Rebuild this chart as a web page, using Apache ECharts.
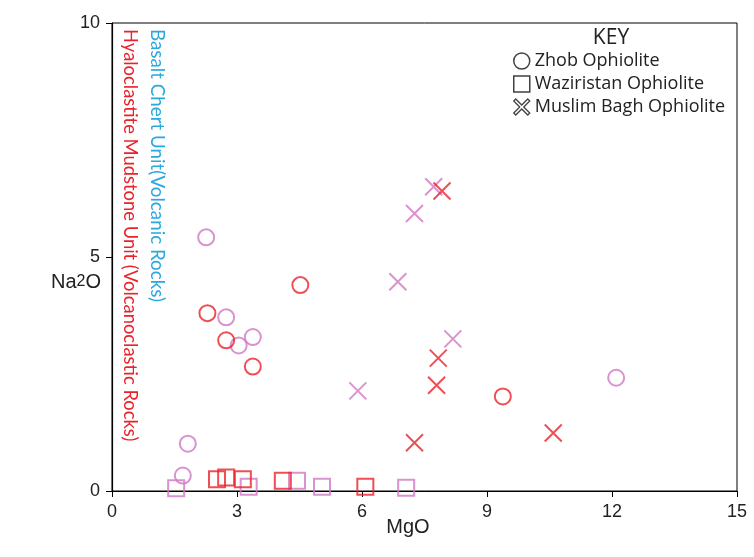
<!DOCTYPE html>
<html>
<head>
<meta charset="utf-8">
<script src="https://cdn.jsdelivr.net/npm/echarts@6/dist/echarts.min.js"></script>
<style>html,body{margin:0;padding:0;background:#fff;}#c{width:754px;height:557px;}</style>
</head>
<body>
<div id="c"></div>
<script>
// ---- data (MgO, Na2O) ----
const xTicks = [0, 3, 6, 9, 12, 15];
const yTicks = [0, 5, 10];
const zhobRed = [[4.52,4.40],[2.29,3.80],[2.74,3.22],[3.38,2.66],[9.38,2.02]];
const zhobPink = [[2.26,5.42],[2.74,3.71],[3.04,3.11],[3.38,3.29],[1.82,1.01],[1.70,0.33],[12.10,2.42]];
const wazRed = [[2.52,0.25],[2.74,0.29],[3.14,0.25],[4.10,0.22],[6.08,0.09]];
const wazPink = [[1.54,0.06],[3.28,0.09],[4.44,0.22],[5.04,0.09],[7.06,0.07]];
const mbRed = [[7.92,6.41],[7.83,2.84],[7.79,2.26],[10.59,1.24],[7.26,1.03]];
const mbPink = [[7.72,6.50],[7.26,5.93],[6.86,4.47],[8.18,3.25],[5.90,2.14]];
const seriesNames = ['Zhob Ophiolite', 'Waziristan Ophiolite', 'Muslim Bagh Ophiolite'];

const RED = '#e8232b', PINK = '#cf78c4';
const XPATH = 'path://M0,0L10,10M10,0L0,10';
const XOUTLINE = 'path://M2,0L8,6L14,0L16,2L10,8L16,14L14,16L8,10L2,16L0,14L6,8L0,2Z';

function mk(name, data, color, symbol, size) {
  return {
    type: 'scatter', name: name, data: data, symbol: symbol, symbolSize: size,
    itemStyle: { color: 'rgba(0,0,0,0)', borderColor: color, borderWidth: 2 },
    emphasis: { disabled: true }, z: 3
  };
}

const chart = echarts.init(document.getElementById('c'), null, { renderer: 'canvas' });
const FONT = 'Liberation Sans';
chart.setOption({
  animation: false,
  backgroundColor: '#fff',
  grid: { left: 112, right: 17, top: 23, bottom: 66, show: true, borderColor: '#000', borderWidth: 1 },
  xAxis: {
    type: 'value', min: 0, max: 15, interval: 3,
    axisLine: { lineStyle: { color: '#000', width: 1.2 } },
    axisTick: { show: true, length: 6, lineStyle: { color: '#000' } },
    axisLabel: { fontSize: 18, color: '#222', fontFamily: FONT, margin: 12,
      formatter: v => xTicks.indexOf(v) >= 0 ? String(v) : '' },
    splitLine: { show: false }
  },
  yAxis: {
    type: 'value', min: 0, max: 10, interval: 5,
    axisLine: { show: true, lineStyle: { color: '#000', width: 1.2 } },
    axisTick: { show: true, length: 6, lineStyle: { color: '#000' } },
    axisLabel: { fontSize: 18, color: '#222', fontFamily: FONT, margin: 12,
      formatter: v => yTicks.indexOf(v) >= 0 ? String(v) : '' },
    splitLine: { show: false }
  },
  legend: {
    orient: 'vertical', left: 508, top: 47, itemWidth: 16, itemHeight: 16, itemGap: 5, itemSymbolKeepAspect: true,
    textStyle: { fontSize: 18, color: '#222', fontFamily: 'Open Sans', padding: [0, 0, 0, 0] },
    selectedMode: false,
    data: [
      { name: seriesNames[0], icon: 'circle', itemStyle: { color: 'rgba(0,0,0,0)', borderColor: '#111', borderWidth: 1.5 } },
      { name: seriesNames[1], icon: 'rect', itemStyle: { color: 'rgba(0,0,0,0)', borderColor: '#111', borderWidth: 1.5 } },
      { name: seriesNames[2], icon: XOUTLINE, itemStyle: { color: 'rgba(0,0,0,0)', borderColor: '#111', borderWidth: 1.3 } }
    ]
  },
  graphic: [
    { type: 'text', x: 611, y: 38, style: { text: 'KEY', fontSize: 21, fill: '#222', fontFamily: 'Open Sans', align: 'center', verticalAlign: 'middle' } },
    { type: 'text', x: 76, y: 282, style: { text: '{a|Na}{b|2}{a|O}', rich: { a: { fontSize: 20, fontFamily: FONT, fill: '#222' }, b: { fontSize: 16, fontFamily: FONT, fill: '#222' } }, align: 'center', verticalAlign: 'middle' } },
    { type: 'text', x: 408, y: 527, style: { text: 'MgO', fontSize: 20, fontFamily: FONT, fill: '#222', align: 'center', verticalAlign: 'middle' } },
    { type: 'text', x: 157, y: 29, rotation: -Math.PI / 2, style: { text: 'Basalt Chert Unit(Volcanic Rocks)', fontSize: 18.8, fontFamily: 'Lato', fill: '#2aa8e0', align: 'left', verticalAlign: 'middle' } },
    { type: 'text', x: 130, y: 29, rotation: -Math.PI / 2, style: { text: 'Hyaloclastite Mudstone Unit (Volcanoclastic Rocks)', fontSize: 18.4, fontFamily: 'Lato', fill: '#e8232b', align: 'left', verticalAlign: 'middle' } }
  ],
  series: [
    mk(seriesNames[0], zhobPink, PINK, 'circle', 16),
    mk(seriesNames[0], zhobRed, RED, 'circle', 16),
    mk(seriesNames[1], wazPink, PINK, 'rect', 16),
    mk(seriesNames[1], wazRed, RED, 'rect', 16),
    mk(seriesNames[2], mbPink, PINK, XPATH, 17),
    mk(seriesNames[2], mbRed, RED, XPATH, 17)
  ]
});
</script>
</body>
</html>
